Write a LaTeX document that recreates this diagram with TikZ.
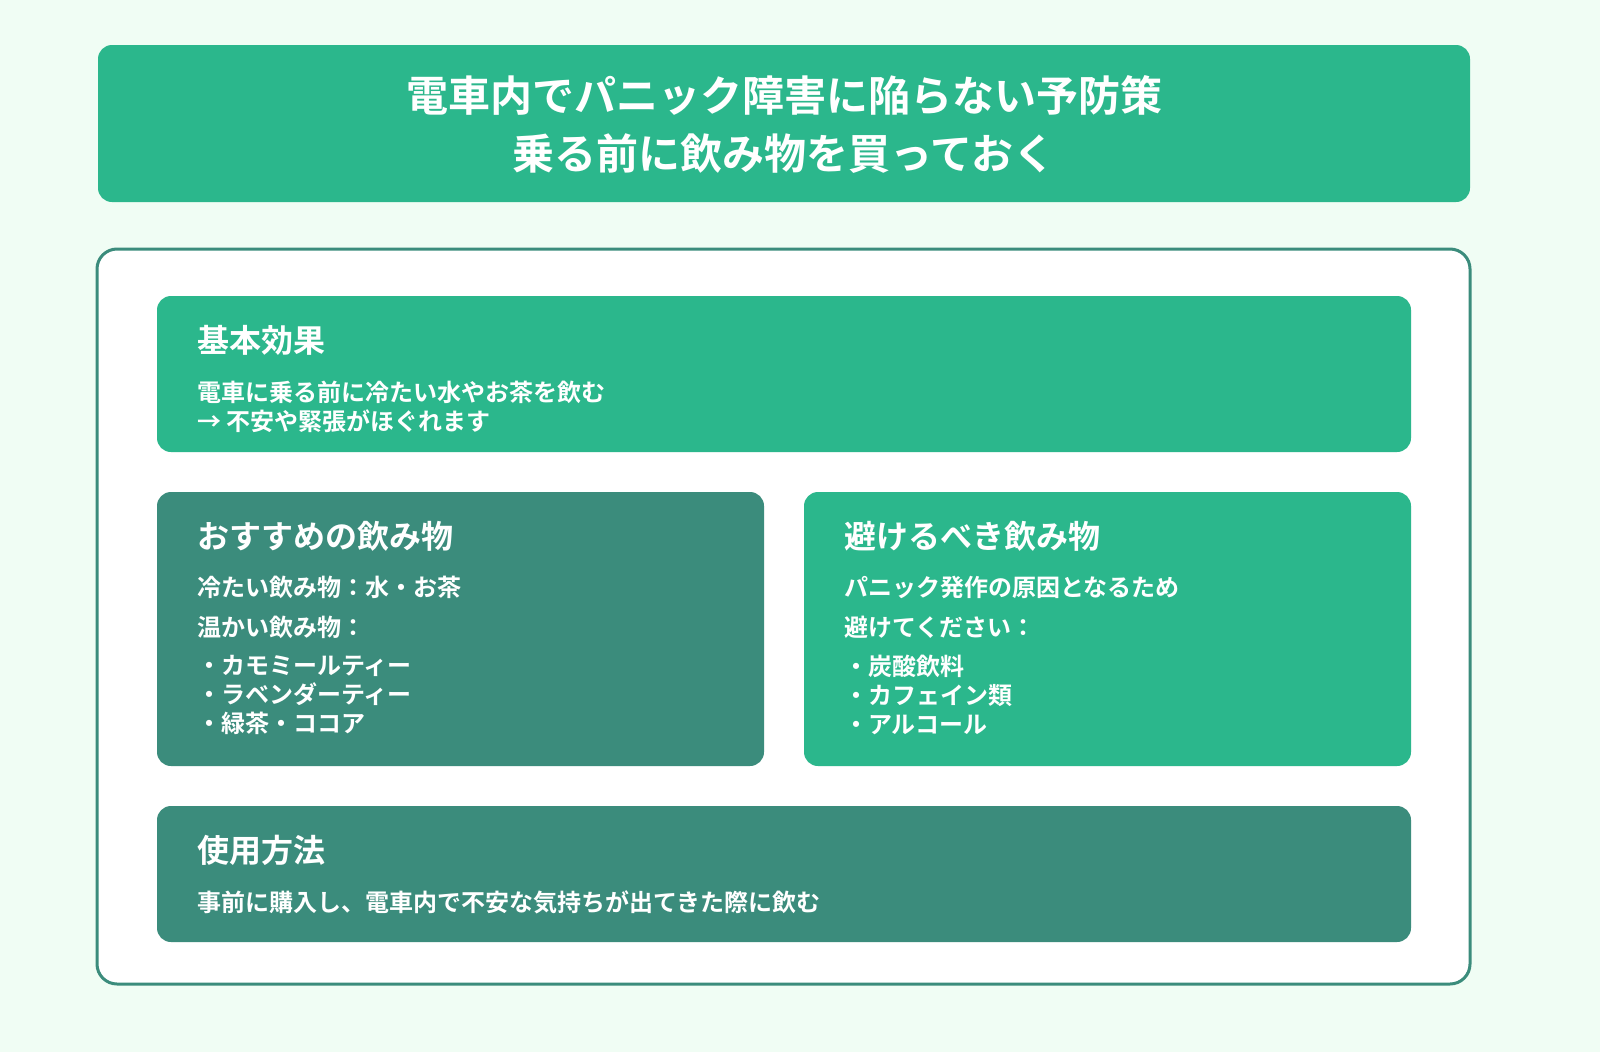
\documentclass[tikz,border=0pt]{standalone}
\usepackage{fontspec}
\newfontfamily\jp{Noto Sans CJK JP Bold}
\definecolor{bg}{HTML}{F0FDF4}
\definecolor{gr}{HTML}{2BB78C}
\definecolor{dk}{HTML}{3B8C7C}
\begin{document}
\begin{tikzpicture}[x=1pt,y=-1pt,
  card/.style={rounded corners=14pt},
  head/.style={anchor=west,text=white,font=\jp\fontsize{32}{36}\selectfont,inner sep=0},
  body/.style={anchor=west,text=white,font=\jp\fontsize{24}{29}\selectfont,inner sep=0,align=left}]
\fill[bg] (0,0) rectangle (1600,1052);
\useasboundingbox (0,0) rectangle (1600,1052);
\fill[gr,card] (98,45) rectangle (1470,202);
\node[text=white,font=\jp\fontsize{42}{58}\selectfont,align=center] (title) at (784,124) {電車内でパニック障害に陥らない予防策\\乗る前に飲み物を買っておく};
\draw[dk,line width=3pt,fill=white,rounded corners=20pt] (97,249) rectangle (1470,984);
\fill[gr,card] (157,296) rectangle (1411,452);
\node[head] (h1) at (197,340) {基本効果};
\node[body] (b1) at (197,407) {電車に乗る前に冷たい水やお茶を飲む\\→ 不安や緊張がほぐれます};
\fill[dk,card] (157,492) rectangle (764,766);
\node[head] (h2) at (197,536) {おすすめの飲み物};
\node[body] (b2a) at (197,587) {冷たい飲み物：水・お茶};
\node[body] (b2b) at (197,627) {温かい飲み物：};
\node[body] (b2c) at (197,695) {・カモミールティー\\・ラベンダーティー\\・緑茶・ココア};
\fill[gr,card] (804,492) rectangle (1411,766);
\node[head] (h3) at (844,536) {避けるべき飲み物};
\node[body] (b3a) at (844,587) {パニック発作の原因となるため};
\node[body] (b3b) at (844,627) {避けてください：};
\node[body] (b3c) at (844,695) {・炭酸飲料\\・カフェイン類\\・アルコール};
\fill[dk,card] (157,806) rectangle (1411,942);
\node[head] (h4) at (197,850) {使用方法};
\node[body] (b4) at (197,902) {事前に購入し、電車内で不安な気持ちが出てきた際に飲む};
\end{tikzpicture}
\end{document}
